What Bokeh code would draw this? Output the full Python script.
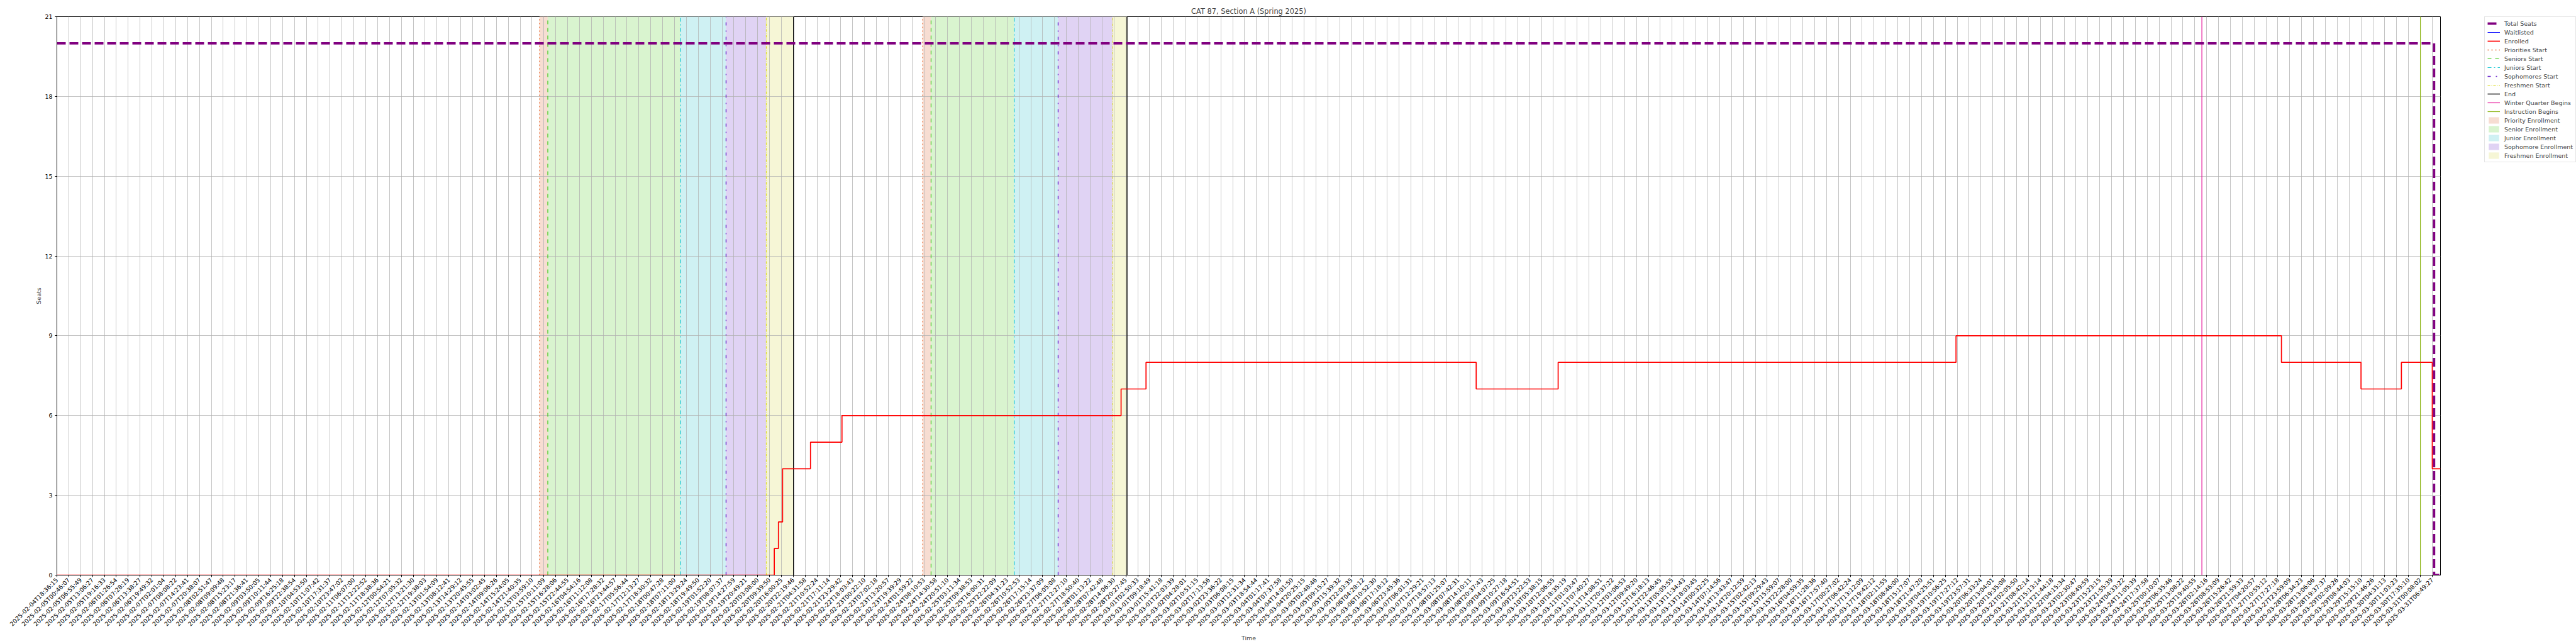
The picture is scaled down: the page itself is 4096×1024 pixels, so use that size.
import math
from bokeh.plotting import figure
from bokeh.layouts import row
from bokeh.models import (FixedTicker, Range1d, Legend, LegendItem)
from bokeh.embed import file_html
from bokeh.resources import INLINE

# ---------------- data ----------------
tick_labels = [
    "2025-02-04T18:36:15", "2025-02-05T00:46:07", "2025-02-05T06:55:49", "2025-02-05T13:06:27",
    "2025-02-05T19:16:33", "2025-02-06T01:26:54", "2025-02-06T07:28:19", "2025-02-06T13:38:27",
    "2025-02-06T19:49:32", "2025-02-07T02:01:04", "2025-02-07T08:08:22", "2025-02-07T14:23:41",
    "2025-02-07T20:38:07", "2025-02-08T02:51:47", "2025-02-08T09:09:48", "2025-02-08T15:23:17",
    "2025-02-08T21:36:41", "2025-02-09T03:50:05", "2025-02-09T10:11:44", "2025-02-09T16:25:18",
    "2025-02-09T22:38:54", "2025-02-10T04:53:50", "2025-02-10T11:07:42", "2025-02-10T17:31:37",
    "2025-02-10T23:47:02", "2025-02-11T06:07:00", "2025-02-11T12:22:52", "2025-02-11T18:38:36",
    "2025-02-12T00:54:21", "2025-02-12T07:05:32", "2025-02-12T13:21:30", "2025-02-12T19:38:03",
    "2025-02-13T01:54:09", "2025-02-13T08:12:41", "2025-02-13T14:29:12", "2025-02-13T20:45:55",
    "2025-02-14T03:02:45", "2025-02-14T09:06:26", "2025-02-14T15:24:05", "2025-02-14T21:40:35",
    "2025-02-15T03:59:10", "2025-02-15T10:11:09", "2025-02-15T16:28:06", "2025-02-15T22:44:55",
    "2025-02-16T04:54:16", "2025-02-16T11:12:08", "2025-02-16T17:28:32", "2025-02-16T23:44:57",
    "2025-02-17T05:56:44", "2025-02-17T12:13:27", "2025-02-17T18:30:32", "2025-02-18T00:47:28",
    "2025-02-18T07:11:00", "2025-02-18T13:29:24", "2025-02-18T19:49:50", "2025-02-19T01:52:20",
    "2025-02-19T08:07:37", "2025-02-19T14:27:59", "2025-02-19T20:49:21", "2025-02-20T03:08:00",
    "2025-02-20T09:39:50", "2025-02-20T16:00:25", "2025-02-20T22:19:46", "2025-02-21T04:31:58",
    "2025-02-21T10:52:24", "2025-02-21T17:11:14", "2025-02-21T23:29:42", "2025-02-22T18:03:43",
    "2025-02-23T00:22:10", "2025-02-23T07:02:18", "2025-02-23T13:20:57", "2025-02-23T19:39:29",
    "2025-02-24T01:59:22", "2025-02-24T08:10:53", "2025-02-24T14:30:58", "2025-02-24T20:51:10",
    "2025-02-25T03:11:34", "2025-02-25T09:38:53", "2025-02-25T16:00:31", "2025-02-25T22:22:09",
    "2025-02-26T04:31:23", "2025-02-26T10:52:53", "2025-02-26T17:15:14", "2025-02-26T23:37:09",
    "2025-02-27T06:05:08", "2025-02-27T12:27:10", "2025-02-27T18:50:40", "2025-02-28T01:13:22",
    "2025-02-28T07:42:48", "2025-02-28T14:06:30", "2025-02-28T20:27:45", "2025-03-01T02:50:33",
    "2025-03-01T09:18:49", "2025-03-01T15:41:18", "2025-03-01T22:03:39", "2025-03-02T04:28:01",
    "2025-03-02T10:51:15", "2025-03-02T17:13:56", "2025-03-02T23:36:22", "2025-03-03T06:08:15",
    "2025-03-03T12:31:34", "2025-03-03T18:54:44", "2025-03-04T01:17:41", "2025-03-04T07:37:58",
    "2025-03-04T14:01:50", "2025-03-04T20:25:15", "2025-03-05T02:48:46", "2025-03-05T09:15:27",
    "2025-03-05T15:39:32", "2025-03-05T22:03:35", "2025-03-06T04:28:12", "2025-03-06T10:52:30",
    "2025-03-06T17:18:12", "2025-03-06T23:45:36", "2025-03-07T06:01:31", "2025-03-07T12:29:21",
    "2025-03-07T18:57:13", "2025-03-08T01:25:07", "2025-03-08T07:42:31", "2025-03-08T14:10:11",
    "2025-03-08T20:37:43", "2025-03-09T04:07:25", "2025-03-09T10:27:18", "2025-03-09T16:54:51",
    "2025-03-09T23:22:53", "2025-03-10T05:38:15", "2025-03-10T12:06:55", "2025-03-10T18:35:19",
    "2025-03-11T01:03:47", "2025-03-11T07:40:27", "2025-03-11T14:08:51", "2025-03-11T20:37:22",
    "2025-03-12T03:06:53", "2025-03-12T09:49:20", "2025-03-12T16:18:13", "2025-03-12T22:46:45",
    "2025-03-13T05:05:55", "2025-03-13T11:34:43", "2025-03-13T18:03:45", "2025-03-14T00:32:25",
    "2025-03-14T07:14:56", "2025-03-14T13:43:47", "2025-03-14T20:12:59", "2025-03-15T02:42:13",
    "2025-03-15T09:29:43", "2025-03-15T15:59:07", "2025-03-15T22:28:00", "2025-03-16T04:59:35",
    "2025-03-16T11:28:36", "2025-03-16T17:57:40", "2025-03-17T00:27:02", "2025-03-17T06:42:24",
    "2025-03-17T13:12:09", "2025-03-17T19:42:12", "2025-03-18T02:11:55", "2025-03-18T08:46:00",
    "2025-03-18T15:17:07", "2025-03-18T21:47:20", "2025-03-19T04:25:51", "2025-03-19T10:56:25",
    "2025-03-19T17:27:12", "2025-03-19T23:57:31", "2025-03-20T06:33:24", "2025-03-20T13:04:01",
    "2025-03-20T19:35:08", "2025-03-21T02:05:50", "2025-03-21T08:42:14", "2025-03-21T15:13:14",
    "2025-03-21T21:44:18", "2025-03-22T04:15:34", "2025-03-23T02:30:47", "2025-03-23T08:49:59",
    "2025-03-23T15:23:15", "2025-03-23T21:55:39", "2025-03-24T04:33:22", "2025-03-24T11:05:39",
    "2025-03-24T17:37:58", "2025-03-25T00:10:07", "2025-03-25T06:35:46", "2025-03-25T13:08:22",
    "2025-03-25T19:40:55", "2025-03-26T02:14:16", "2025-03-26T08:53:09", "2025-03-26T15:26:42",
    "2025-03-26T21:59:33", "2025-03-27T04:20:57", "2025-03-27T10:55:12", "2025-03-27T17:27:18",
    "2025-03-27T23:59:09", "2025-03-28T06:34:23", "2025-03-28T13:06:06", "2025-03-28T19:37:37",
    "2025-03-29T02:09:26", "2025-03-29T08:44:03", "2025-03-29T15:15:10", "2025-03-29T21:46:26",
    "2025-03-30T04:31:13", "2025-03-30T11:03:23", "2025-03-30T17:35:10", "2025-03-31T00:08:02",
    "2025-03-31T06:49:27",
]
x_end = 200.69  # last sample position (in tick-index units)

# Enrolled: positions (tick-index units) where the value changes, and the new value
enrolled_x = [0, 60.4, 60.75, 61.1, 63.45, 66.1, 89.6, 91.7, 119.5, 126.4, 159.9, 187.3, 194.0, 197.4, 200.0, 200.69]
enrolled_y = [0, 1, 2, 4, 5, 6, 7, 8, 7, 8, 9, 8, 7, 8, 4, 4]

# Waitlisted
waitlist_x = [0, x_end]
waitlist_y = [0, 0]

# Total seats
seats_x = [0, 200.15, x_end]
seats_y = [20, 0, 0]

# Event markers (tick-index units)
priorities_start = [40.64, 72.9]
seniors_start = [41.33, 73.6]
juniors_start = [52.5, 80.6]
sophomores_start = [56.34, 84.3]
freshmen_start = [59.73, 88.9]
end_marks = [62.02, 90.1]
winter_quarter = [180.6]
instruction_begins = [199.0]

y_ticks = [0, 3, 6, 9, 12, 15, 18, 21]

# ---------------- styles ----------------
FONT = "DejaVu Sans"
STY = {
    "seats": dict(line_color="#800080", line_width=3.8, line_dash="14 6"),
    "wait": dict(line_color="blue", line_width=1.0),
    "enr": dict(line_color="red", line_width=1.7),
    "prio": dict(line_color="#e8703a", line_dash="dotted", line_width=1.4),
    "sen": dict(line_color="#3cc814", line_dash="dashed", line_width=1.2),
    "jun": dict(line_color="#12c6d2", line_dash="dashdot", line_width=1.2),
    "soph": dict(line_color="#6a28cc", line_dash="5 8 2 8", line_width=1.4),
    "fresh": dict(line_color="#dcdc28", line_dash="4 2 1 2", line_width=1.2),
    "end": dict(line_color="black", line_width=1.4),
    "winter": dict(line_color="#e6179a", line_width=1.2),
    "instr": dict(line_color="#8cb414", line_width=1.2),
}
span_defs = [
    ("Priority Enrollment", priorities_start, seniors_start, "#f7ddd2"),
    ("Senior Enrollment", seniors_start, juniors_start, "#d9f4cf"),
    ("Junior Enrollment", juniors_start, sophomores_start, "#cff1f3"),
    ("Sophomore Enrollment", sophomores_start, freshmen_start, "#e0d3f4"),
    ("Freshmen Enrollment", freshmen_start, end_marks, "#f6f6d6"),
]

# ---------------- main figure ----------------
p = figure(width=3890, height=1024, output_backend="svg", toolbar_location=None,
           x_range=Range1d(0, x_end), y_range=Range1d(0, 21),
           min_border_left=90, min_border_right=10, min_border_top=26, min_border_bottom=110,
           title="CAT 87, Section A (Spring 2025)")
p.background_fill_color = "white"
p.border_fill_color = "white"
p.outline_line_color = "black"
p.outline_line_width = 1

p.title.align = "center"
p.title.text_font = FONT
p.title.text_font_size = "11.4px"
p.title.text_font_style = "normal"
p.title.standoff = 4

p.xaxis.ticker = FixedTicker(ticks=list(range(len(tick_labels))))
p.xaxis.major_label_overrides = {i: t for i, t in enumerate(tick_labels)}
p.xaxis.major_label_orientation = math.pi / 4
p.yaxis.ticker = FixedTicker(ticks=y_ticks)
for ax in (p.xaxis, p.yaxis):
    ax.major_label_text_font = FONT
    ax.major_label_text_font_size = "9.5px"
    ax.major_label_text_color = "black"
    ax.axis_label_text_font = FONT
    ax.axis_label_text_font_size = "9.5px"
    ax.axis_label_text_font_style = "normal"
    ax.minor_tick_line_color = None
    ax.major_tick_out = 3
    ax.major_tick_in = 0
    ax.axis_line_color = "black"
p.xaxis.major_label_standoff = 3
p.yaxis.major_label_standoff = 4
p.xaxis.axis_label = "Time"
p.yaxis.axis_label = "Seats"
p.xaxis.axis_label_standoff = 4
p.yaxis.axis_label_standoff = 1

p.grid.grid_line_color = "#b0b0b0"
p.grid.grid_line_width = 0.75

for name, lefts, rights, col in span_defs:
    p.quad(left=lefts, right=rights, bottom=0, top=21, fill_color=col, line_color=col,
           line_width=0.5, level="image")

def vlines(fig, xs, key):
    return fig.segment(x0=xs, x1=xs, y0=0, y1=21, **STY[key])

vlines(p, priorities_start, "prio")
vlines(p, seniors_start, "sen")
vlines(p, juniors_start, "jun")
vlines(p, sophomores_start, "soph")
vlines(p, freshmen_start, "fresh")
vlines(p, end_marks, "end")
vlines(p, winter_quarter, "winter")
vlines(p, instruction_begins, "instr")

p.line(waitlist_x, waitlist_y, **STY["wait"])
p.step(enrolled_x, enrolled_y, mode="after", **STY["enr"])
p.step(seats_x, seats_y, mode="after", **STY["seats"])

# ---------------- legend panel (outside the axes, right side) ----------------
q = figure(width=206, height=1024, output_backend="svg", toolbar_location=None,
           x_range=Range1d(0, 1), y_range=Range1d(0, 1),
           x_axis_location=None, y_axis_location=None,
           min_border_left=0, min_border_right=0, min_border_top=0, min_border_bottom=0)
q.outline_line_color = None
q.grid.visible = False
q.background_fill_color = "white"
q.border_fill_color = "white"

NAN = [float("nan")]

def lg_line(key):
    # legend proxy: a single missing point, so nothing is drawn in the panel itself
    return q.line(NAN, NAN, **STY[key])

items = [
    LegendItem(label="Total Seats", renderers=[lg_line("seats")]),
    LegendItem(label="Waitlisted", renderers=[lg_line("wait")]),
    LegendItem(label="Enrolled", renderers=[lg_line("enr")]),
    LegendItem(label="Priorities Start", renderers=[lg_line("prio")]),
    LegendItem(label="Seniors Start", renderers=[lg_line("sen")]),
    LegendItem(label="Juniors Start", renderers=[lg_line("jun")]),
    LegendItem(label="Sophomores Start", renderers=[lg_line("soph")]),
    LegendItem(label="Freshmen Start", renderers=[lg_line("fresh")]),
    LegendItem(label="End", renderers=[lg_line("end")]),
    LegendItem(label="Winter Quarter Begins", renderers=[lg_line("winter")]),
    LegendItem(label="Instruction Begins", renderers=[lg_line("instr")]),
]
for name, lefts, rights, col in span_defs:
    r = q.quad(left=NAN, right=NAN, bottom=NAN, top=NAN, fill_color=col, line_color=col,
               line_width=0.5)
    items.append(LegendItem(label=name, renderers=[r]))

# the legend panel's frame is aligned with the main frame (888 px tall)
legend = Legend(items=items, location=(60, 656))
legend.label_text_font = FONT
legend.label_text_font_size = "9.5px"
legend.glyph_width = 20
legend.glyph_height = 12
legend.label_height = 12
legend.spacing = 2
legend.padding = 4
legend.margin = 0
legend.label_standoff = 7
legend.border_line_color = "#cccccc"
legend.border_line_width = 1
legend.background_fill_color = "white"
legend.background_fill_alpha = 0.9
q.add_layout(legend, "center")

layout = row(p, q)
open("out.html", "w").write(file_html(layout, INLINE))
